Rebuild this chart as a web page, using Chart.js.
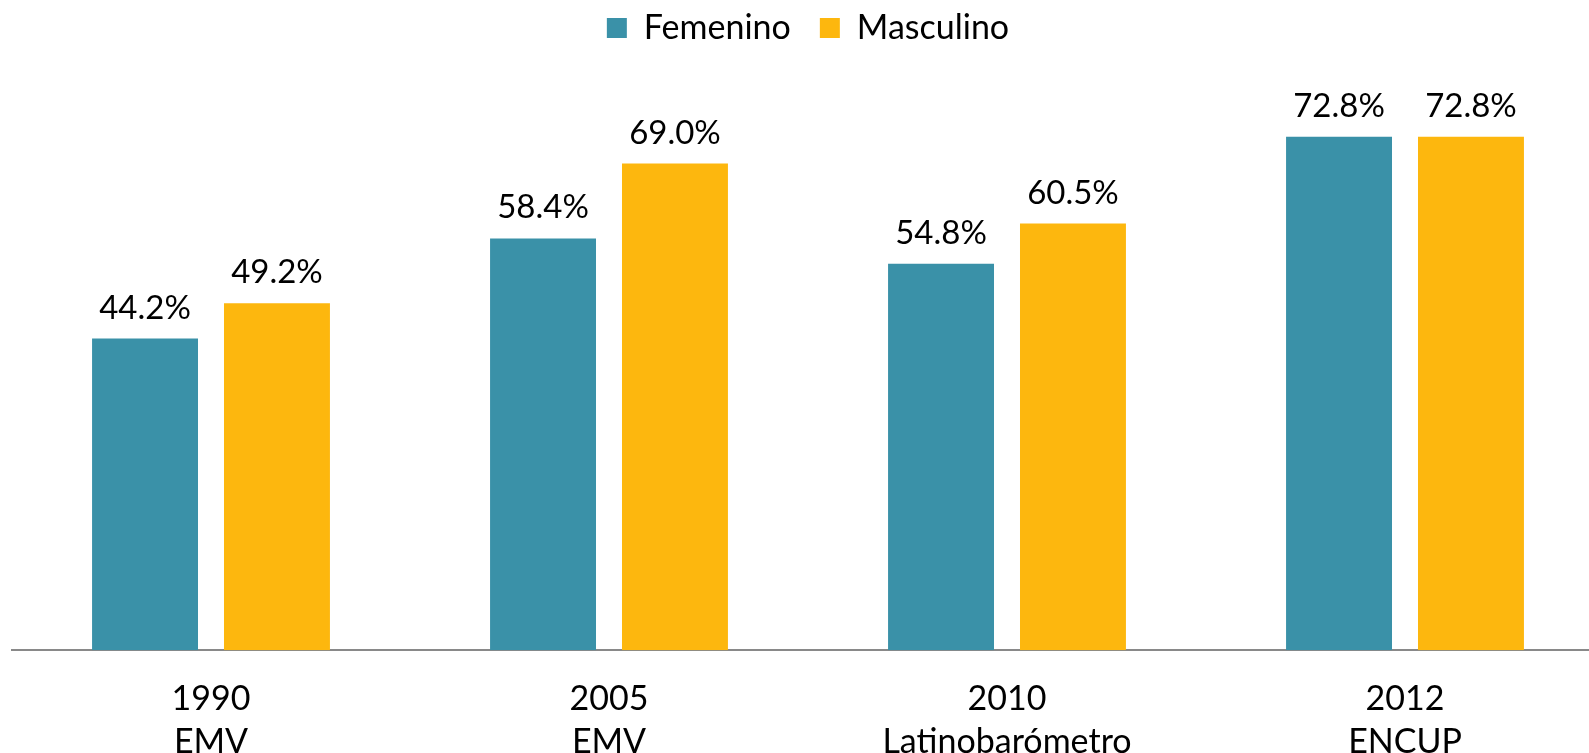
<!DOCTYPE html>
<html>
<head>
<meta charset="utf-8">
<script src="https://cdn.jsdelivr.net/npm/chart.js@4/dist/chart.umd.min.js"></script>
<style>
  html, body { margin: 0; padding: 0; background: #ffffff; overflow: hidden; }
  #wrap { position: relative; width: 1630px; height: 783px; }
</style>
</head>
<body>
<div id="wrap"><canvas id="c"></canvas></div>
<script>
const categories = [['1990', 'EMV'], ['2005', 'EMV'], ['2010', 'Latinobarómetro'], ['2012', 'ENCUP']];
const femenino = [44.2, 58.4, 54.8, 72.8];
const masculino = [49.2, 69.0, 60.5, 72.8];
const seriesNames = ['Femenino', 'Masculino'];

const FONT = 'Lato, "Open Sans", sans-serif';

const valueLabels = {
  id: 'valueLabels',
  afterDatasetsDraw(chart) {
    const ctx = chart.ctx;
    ctx.save();
    ctx.font = '33px ' + FONT;
    ctx.fillStyle = '#000000';
    ctx.textAlign = 'center';
    ctx.textBaseline = 'alphabetic';
    chart.data.datasets.forEach((ds, i) => {
      const meta = chart.getDatasetMeta(i);
      meta.data.forEach((bar, j) => {
        ctx.fillText(ds.data[j].toFixed(1) + '%', bar.x, bar.y - 20);
      });
    });
    ctx.restore();
  }
};

new Chart(document.getElementById('c'), {
  type: 'bar',
  data: {
    labels: categories,
    datasets: [
      { label: seriesNames[0], data: femenino, backgroundColor: '#3A91A8', categoryPercentage: 0.663, barPercentage: 0.803 },
      { label: seriesNames[1], data: masculino, backgroundColor: '#FDB70E', categoryPercentage: 0.663, barPercentage: 0.803 }
    ]
  },
  options: {
    responsive: true,
    maintainAspectRatio: false,
    animation: false,
    layout: { padding: { left: 12, right: 26, top: -18, bottom: 0 } },
    plugins: {
      tooltip: { enabled: false },
      legend: {
        position: 'top',
        labels: {
          font: { family: FONT, size: 34 },
          color: '#000000',
          boxWidth: 20,
          boxHeight: 20,
          padding: 29
        }
      }
    },
    scales: {
      x: {
        grid: { display: false },
        border: { display: true, color: '#898989', width: 2 },
        ticks: {
          font: { family: FONT, size: 34, lineHeight: 1.275 },
          color: '#000000',
          padding: 19,
          maxRotation: 0,
          autoSkip: false
        }
      },
      y: {
        display: false,
        min: 0,
        max: 84.4
      }
    }
  },
  plugins: [valueLabels]
});
</script>
</body>
</html>
